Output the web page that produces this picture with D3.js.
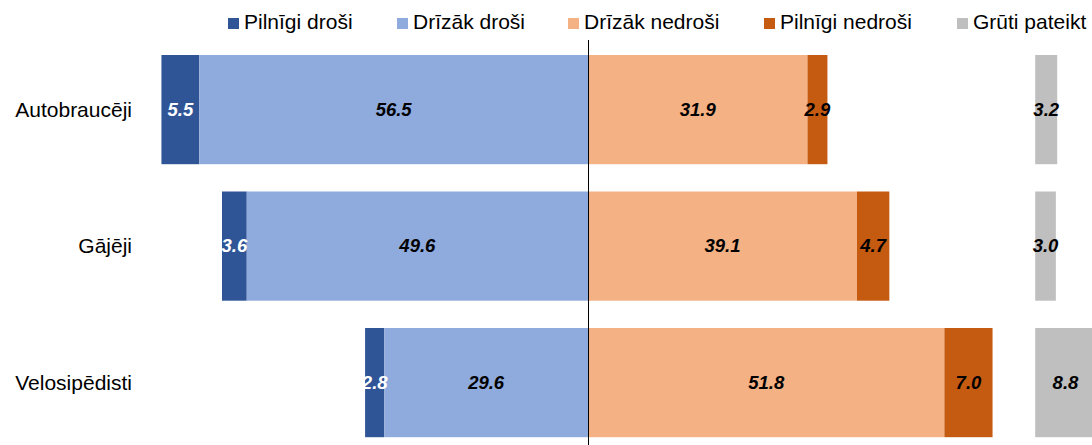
<!DOCTYPE html>
<html>
<head>
<meta charset="utf-8">
<script src="https://cdn.jsdelivr.net/npm/d3@7"></script>
<style>
  body { margin: 0; background: #fff; }
  svg { display: block; font-family: "Liberation Sans", Arial, sans-serif; }
</style>
</head>
<body>
<svg id="chart" width="1092" height="445"></svg>
<script>
const categories = ["Autobraucēji", "Gājēji", "Velosipēdisti"];
const seriesNames = ["Pilnīgi droši", "Drīzāk droši", "Drīzāk nedroši", "Pilnīgi nedroši", "Grūti pateikt"];
const pilnigiDrosi = [5.5, 3.6, 2.8];
const drizakDrosi = [56.5, 49.6, 29.6];
const drizakNedrosi = [31.9, 39.1, 51.8];
const pilnigiNedrosi = [2.9, 4.7, 7.0];
const grutiPateikt = [3.2, 3.0, 8.8];
const colors = ["#2F5597", "#8FAADC", "#F4B183", "#C55A11", "#BFBFBF"];
const labelColors = ["#fff", "#000", "#000", "#000", "#000"];

const svg = d3.select("#chart");
const W = 1092, H = 445;
const center = 588, k = 6.88;
const grayOffset = 65; // where the "Grūti pateikt" column starts, in units

const x = d3.scaleLinear()
    .domain([-70, 75])
    .range([center - 70 * k, center + 75 * k]);

const y = d3.scaleBand()
    .domain(categories)
    .range([55, 437.2])
    .paddingInner(0.2)
    .paddingOuter(0);

// build segments
let segs = [];
categories.forEach((c, i) => {
    let leftStart = -(pilnigiDrosi[i] + drizakDrosi[i]);
    segs.push({cat: c, s: 0, x0: leftStart, x1: leftStart + pilnigiDrosi[i], v: pilnigiDrosi[i]});
    segs.push({cat: c, s: 1, x0: -drizakDrosi[i], x1: 0, v: drizakDrosi[i]});
    segs.push({cat: c, s: 2, x0: 0, x1: drizakNedrosi[i], v: drizakNedrosi[i]});
    segs.push({cat: c, s: 3, x0: drizakNedrosi[i], x1: drizakNedrosi[i] + pilnigiNedrosi[i], v: pilnigiNedrosi[i]});
    segs.push({cat: c, s: 4, x0: grayOffset, x1: grayOffset + grutiPateikt[i], v: grutiPateikt[i]});
});

svg.append("g").selectAll("rect").data(segs)
    .join("rect")
        .attr("x", d => x(d.x0))
        .attr("y", d => y(d.cat))
        .attr("width", d => x(d.x1) - x(d.x0))
        .attr("height", y.bandwidth())
        .attr("fill", d => colors[d.s]);

// value labels
svg.append("g").selectAll("text").data(segs)
    .join("text")
        .attr("x", d => (x(d.x0) + x(d.x1)) / 2)
        .attr("y", d => y(d.cat) + y.bandwidth() / 2)
        .attr("dy", "0.33em")
        .attr("text-anchor", "middle")
        .attr("font-size", 18.5)
        .attr("font-weight", "bold")
        .attr("font-style", "italic")
        .attr("fill", d => labelColors[d.s])
        .text(d => d.v.toFixed(1));

// center line
svg.append("line")
    .attr("x1", x(0) + 0.5).attr("x2", x(0) + 0.5)
    .attr("y1", 40).attr("y2", H)
    .attr("stroke", "#000")
    .attr("stroke-width", 1);

// category labels
svg.append("g").selectAll("text").data(categories)
    .join("text")
        .attr("x", 132)
        .attr("y", d => y(d) + y.bandwidth() / 2)
        .attr("dy", "0.35em")
        .attr("text-anchor", "end")
        .attr("font-size", 21)
        .attr("fill", "#000")
        .text(d => d);

// legend
const legendX = [228, 397, 568, 764, 957];
const legend = svg.append("g").selectAll("g").data(seriesNames)
    .join("g")
        .attr("transform", (d, i) => `translate(${legendX[i]},0)`);
legend.append("rect")
    .attr("x", 0).attr("y", 18)
    .attr("width", 11).attr("height", 11)
    .attr("fill", (d, i) => colors[i]);
legend.append("text")
    .attr("x", 16).attr("y", 29)
    .attr("font-size", 21)
    .attr("fill", "#000")
    .text(d => d);
</script>
</body>
</html>
